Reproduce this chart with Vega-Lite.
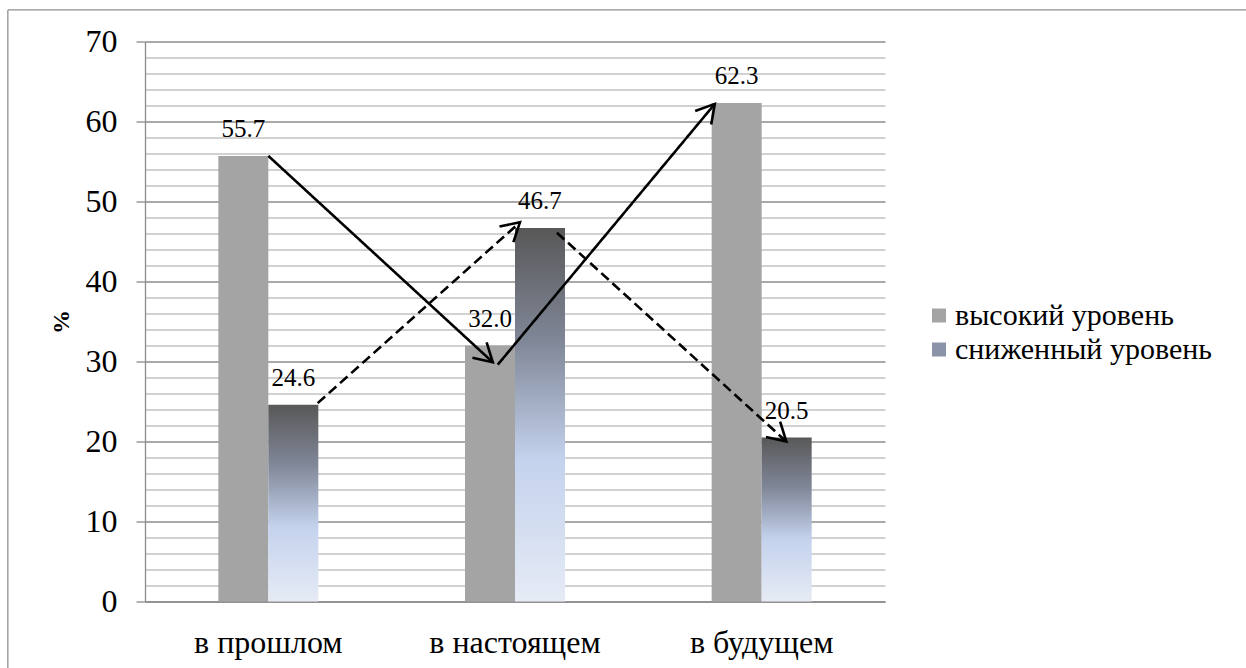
{
  "$schema": "https://vega.github.io/schema/vega-lite/v6.json",
  "width": 740,
  "height": 560,
  "autosize": {"type": "none"},
  "padding": {"left": 145, "top": 41.5, "right": 361, "bottom": 66.5},
  "background": "white",
  "config": {
    "font": "'Liberation Serif', 'Times New Roman', serif",
    "view": {"stroke": null},
    "text": {"font": "'Liberation Serif', 'Times New Roman', serif"},
    "axis": {"labelColor": "black", "titleColor": "black", "labelFont": "'Liberation Serif', 'Times New Roman', serif", "titleFont": "'Liberation Serif', 'Times New Roman', serif"},
    "legend": {"labelColor": "black", "labelFont": "'Liberation Serif', 'Times New Roman', serif"}
  },
  "datasets": {
    "bars": [
      {"period": "в прошлом", "level": "высокий уровень", "value": 55.7},
      {"period": "в прошлом", "level": "сниженный уровень", "value": 24.6},
      {"period": "в настоящем", "level": "высокий уровень", "value": 32.0},
      {"period": "в настоящем", "level": "сниженный уровень", "value": 46.7},
      {"period": "в будущем", "level": "высокий уровень", "value": 62.3},
      {"period": "в будущем", "level": "сниженный уровень", "value": 20.5}
    ],
    "arrows": [
      {"id": "a1", "level": "высокий уровень", "from_x": 0.5, "from_y": 55.7, "to_x": 1.41, "to_y": 29.9},
      {"id": "a2", "level": "высокий уровень", "from_x": 1.43, "from_y": 29.6, "to_x": 2.31, "to_y": 62.2},
      {"id": "a3", "level": "сниженный уровень", "from_x": 0.7, "from_y": 24.8, "to_x": 1.52, "to_y": 47.4},
      {"id": "a4", "level": "сниженный уровень", "from_x": 1.67, "from_y": 46.1, "to_x": 2.6, "to_y": 20.0}
    ]
  },
  "layer": [
    {
      "layer": [
        {
          "data": {"name": "bars"},
          "mark": {"type": "bar"},
          "encoding": {
            "x": {
              "field": "period",
              "type": "nominal",
              "sort": ["в прошлом", "в настоящем", "в будущем"],
              "scale": {"paddingInner": 0.5946, "paddingOuter": 0.2973},
              "axis": {
                "title": null,
                "ticks": false,
                "grid": false,
                "labelAngle": 0,
                "labelFontSize": 32,
                "labelPadding": 26,
                "domainColor": "#8c8c8c",
                "domainWidth": 1.3
              }
            },
            "xOffset": {
              "field": "level",
              "type": "nominal",
              "sort": ["высокий уровень", "сниженный уровень"],
              "scale": {"paddingInner": 0, "paddingOuter": 0}
            },
            "y": {
              "field": "value",
              "type": "quantitative",
              "scale": {"domain": [0, 70], "nice": false},
              "axis": {
                "title": "%",
                "titleFontSize": 24,
                "titleFontWeight": "bold",
                "titleAngle": 270,
                "titleX": -84,
                "titleY": 280,
                "titleAlign": "center",
                "titleBaseline": "middle",
                "values": [0, 2, 4, 6, 8, 10, 12, 14, 16, 18, 20, 22, 24, 26, 28, 30, 32, 34, 36, 38, 40, 42, 44, 46, 48, 50, 52, 54, 56, 58, 60, 62, 64, 66, 68, 70],
                "tickCount": 40,
                "labelExpr": "datum.value % 10 === 0 ? datum.label : ''",
                "labelFontSize": 32,
                "labelPadding": 19,
                "labelOverlap": false,
                "labelFlush": false,
                "tickSize": 9,
                "tickColor": "#8c8c8c",
                "tickWidth": 1.3,
                "tickOpacity": {"condition": {"test": "datum.value % 10 === 0", "value": 1}, "value": 0},
                "domainColor": "#8c8c8c",
                "domainWidth": 1.3,
                "grid": true,
                "gridWidth": 1.3,
                "gridColor": {"condition": {"test": "datum.value % 10 === 0", "value": "#8c8c8c"}, "value": "#c2c2c2"}
              }
            },
            "fill": {
              "condition": {
                "test": "datum.level === 'сниженный уровень'",
                "value": {
                  "gradient": "linear",
                  "x1": 0, "y1": 0, "x2": 0, "y2": 1,
                  "stops": [
                    {"offset": 0, "color": "#585858"},
                    {"offset": 0.3, "color": "#7f8696"},
                    {"offset": 0.62, "color": "#c4d2ed"},
                    {"offset": 1, "color": "#e6ebf5"}
                  ]
                }
              },
              "field": "level",
              "type": "nominal",
              "sort": ["высокий уровень", "сниженный уровень"],
              "scale": {
                "domain": ["высокий уровень", "сниженный уровень"],
                "range": ["#a4a4a4", "#8a93a8"]
              },
              "legend": {
                "title": null,
                "orient": "none",
                "legendX": 779,
                "legendY": 259,
                "symbolType": "square",
                "symbolSize": 196,
                "symbolStrokeWidth": 0,
                "symbolOpacity": 1,
                "labelFontSize": 30,
                "labelLimit": 400,
                "labelOffset": 1,
                "rowPadding": 4,
                "encode": {
                  "symbols": {
                    "update": {
                      "fill": [
                        {
                          "test": "datum.label === 'сниженный уровень'",
                          "value": {
                            "gradient": "linear",
                            "x1": 0, "y1": 0, "x2": 0, "y2": 1,
                            "stops": [
                              {"offset": 0, "color": "#585858"},
                              {"offset": 0.4, "color": "#8a93a8"},
                              {"offset": 1, "color": "#c4d2ed"}
                            ]
                          }
                        },
                        {"value": "#a4a4a4"}
                      ]
                    }
                  }
                }
              }
            }
          }
        },
        {
          "data": {"name": "bars"},
          "mark": {"type": "text", "baseline": "alphabetic", "dy": -19, "fontSize": 25, "color": "black"},
          "encoding": {
            "x": {"field": "period", "type": "nominal", "sort": ["в прошлом", "в настоящем", "в будущем"], "scale": {"paddingInner": 0.5946, "paddingOuter": 0.2973}},
            "xOffset": {"field": "level", "type": "nominal", "sort": ["высокий уровень", "сниженный уровень"], "scale": {"paddingInner": 0, "paddingOuter": 0}},
            "y": {"field": "value", "type": "quantitative", "scale": {"domain": [0, 70], "nice": false}},
            "text": {"field": "value", "type": "quantitative", "format": ".1f"}
          }
        }
      ]
    },
    {
      "layer": [
        {
          "data": {"name": "arrows"},
          "mark": {"type": "rule", "color": "black", "strokeWidth": 2.6},
          "encoding": {
            "x": {"field": "from_x", "type": "quantitative", "scale": {"domain": [0, 3], "nice": false, "zero": false}, "axis": null},
            "x2": {"field": "to_x"},
            "y": {"field": "from_y", "type": "quantitative", "scale": {"domain": [0, 70], "nice": false}, "axis": null},
            "y2": {"field": "to_y"},
            "strokeDash": {
              "field": "level",
              "type": "nominal",
              "scale": {"domain": ["высокий уровень", "сниженный уровень"], "range": [[1, 0], [10, 5]]},
              "legend": null
            }
          }
        },
        {
          "data": {"name": "arrows"},
          "mark": {
            "type": "point",
            "shape": "M-1,-0.58L0,0L-1,0.58",
            "filled": false,
            "size": 1300,
            "stroke": "black",
            "strokeWidth": 2.6,
            "opacity": 1
          },
          "encoding": {
            "x": {"field": "to_x", "type": "quantitative", "scale": {"domain": [0, 3], "nice": false, "zero": false}, "axis": null},
            "y": {"field": "to_y", "type": "quantitative", "scale": {"domain": [0, 70], "nice": false}, "axis": null},
            "angle": {
              "field": "id",
              "type": "nominal",
              "scale": {"type": "ordinal", "domain": ["a1", "a2", "a3", "a4"], "range": [42.7, 310, 318.4, 42.6]},
              "legend": null
            }
          }
        },
        {
          "data": {"values": [{}]},
          "mark": {"type": "rule", "color": "#8f8f8f", "strokeWidth": 1.3},
          "encoding": {
            "x": {"datum": -0.556, "type": "quantitative", "scale": {"domain": [0, 3], "nice": false, "zero": false}, "axis": null},
            "x2": {"datum": 4.7},
            "y": {"datum": 73.95, "type": "quantitative", "scale": {"domain": [0, 70], "nice": false}, "axis": null}
          }
        },
        {
          "data": {"values": [{}]},
          "mark": {"type": "rule", "color": "#8f8f8f", "strokeWidth": 1.3},
          "encoding": {
            "x": {"datum": -0.556, "type": "quantitative", "scale": {"domain": [0, 3], "nice": false, "zero": false}, "axis": null},
            "y": {"datum": 73.95, "type": "quantitative", "scale": {"domain": [0, 70], "nice": false}, "axis": null},
            "y2": {"datum": -10}
          }
        }
      ]
    }
  ],
  "resolve": {"scale": {"x": "independent"}, "axis": {"y": "independent"}}
}
